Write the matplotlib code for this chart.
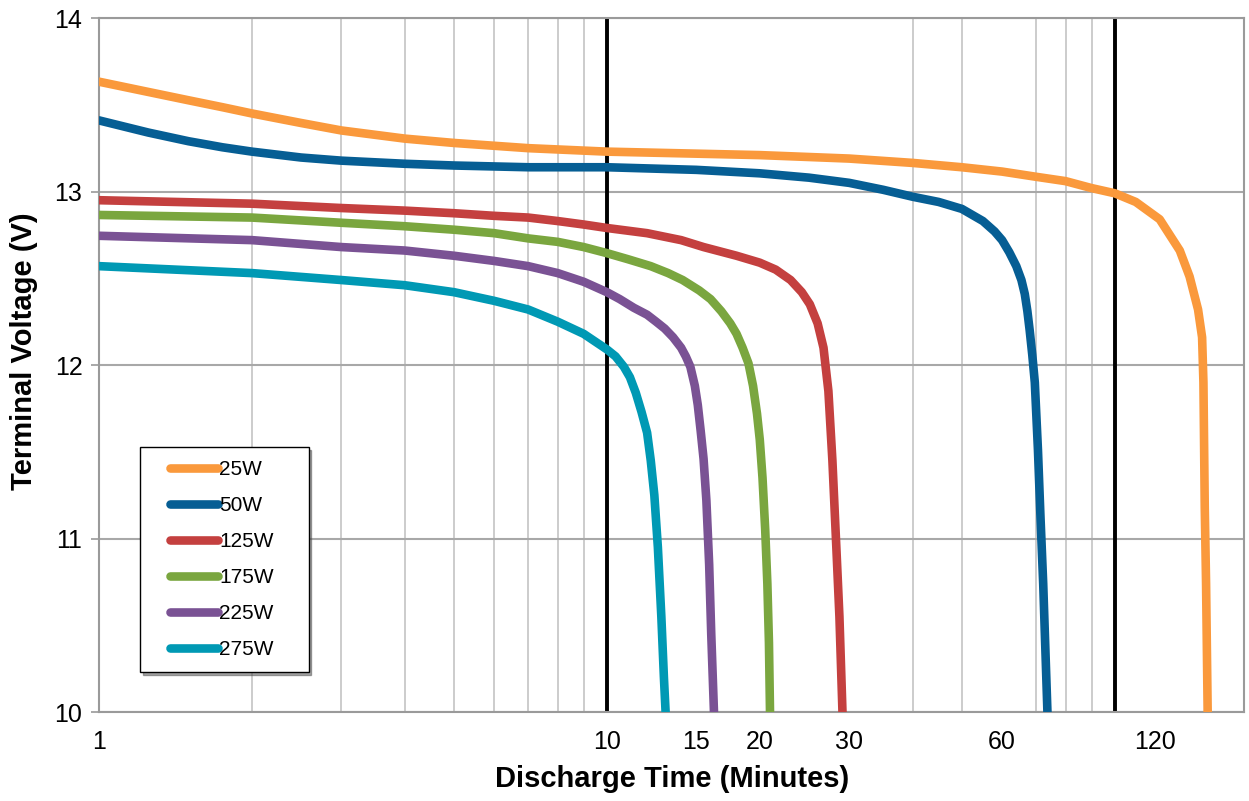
import matplotlib
matplotlib.use("Agg")
import matplotlib.pyplot as plt
from matplotlib.lines import Line2D
from matplotlib.legend_handler import HandlerLine2D
from matplotlib.ticker import LogLocator, FixedLocator, FixedFormatter, NullFormatter

# discharge curves: time (minutes) vs terminal voltage (V)
t_25 = [1, 1.25, 1.5, 1.75, 2, 2.5, 3, 4, 5, 7, 10, 20, 30, 40, 50, 60, 70, 80,
        90, 100, 110, 122.6, 134.3, 140.4, 145.9, 148.6, 149.5, 150.4, 151.3, 152.4]
v_25 = [13.633, 13.574, 13.526, 13.486, 13.45, 13.395, 13.352, 13.305, 13.28, 13.25,
        13.23, 13.21, 13.19, 13.165, 13.14, 13.115, 13.085, 13.06, 13.02, 12.99,
        12.94, 12.84, 12.66, 12.51, 12.32, 12.16, 11.9, 11.18, 10.74, 10.0]

t_50 = [1, 1.25, 1.5, 1.75, 2, 2.5, 3, 4, 5, 7, 10, 15, 20, 25, 30, 35, 40, 45,
        50, 55, 58, 60, 62, 64, 65.5, 66.5, 67.3, 68, 68.8, 69.6, 70.6, 71.4,
        72.3, 73.7]
v_50 = [13.41, 13.34, 13.29, 13.255, 13.23, 13.196, 13.178, 13.16, 13.15, 13.14,
        13.14, 13.125, 13.105, 13.08, 13.05, 13.01, 12.97, 12.94, 12.90, 12.83,
        12.77, 12.72, 12.65, 12.57, 12.49, 12.41, 12.31, 12.2, 12.06, 11.9,
        11.51, 11.13, 10.74, 10.0]

t_125 = [1, 2, 3, 4, 5, 6, 7, 8, 9, 10, 12, 14, 15.5, 18, 20, 21.5, 23, 24.2,
         25.1, 26, 26.7, 27.3, 27.8, 28.3, 28.7, 29.1]
v_125 = [12.95, 12.93, 12.905, 12.89, 12.875, 12.86, 12.85, 12.83, 12.81, 12.79,
         12.76, 12.72, 12.68, 12.63, 12.59, 12.55, 12.49, 12.42, 12.35, 12.24,
         12.10, 11.85, 11.45, 10.95, 10.55, 10.0]

t_175 = [1, 2, 3, 4, 5, 6, 7, 8, 9, 10, 11, 12.2, 13.2, 14.1, 15.2, 16.0, 16.8,
         17.5, 18.0, 18.5, 19.0, 19.4, 19.75, 20.0, 20.25, 20.5, 20.7, 20.85, 20.95]
v_175 = [12.865, 12.85, 12.82, 12.80, 12.78, 12.76, 12.73, 12.71, 12.68, 12.645,
         12.61, 12.57, 12.53, 12.49, 12.43, 12.38, 12.31, 12.24, 12.18, 12.10,
         12.01, 11.88, 11.72, 11.57, 11.35, 11.05, 10.74, 10.4, 10.0]

t_225 = [1, 2, 3, 4, 5, 6, 7, 8, 9, 10, 10.6, 11.3, 12.0, 12.5, 13.0, 13.5, 14.0,
         14.3, 14.6, 14.9, 15.1, 15.3, 15.5, 15.7, 15.9, 16.05, 16.25]
v_225 = [12.745, 12.72, 12.68, 12.66, 12.63, 12.60, 12.57, 12.53, 12.48, 12.42,
         12.38, 12.33, 12.29, 12.25, 12.21, 12.16, 12.10, 12.05, 11.99, 11.88,
         11.77, 11.62, 11.46, 11.22, 10.85, 10.45, 10.0]

t_275 = [1, 2, 3, 4, 5, 6, 7, 8, 9, 10, 10.4, 10.8, 11.1, 11.4, 11.7, 12.0, 12.2,
         12.4, 12.6, 12.8, 12.95, 13.05]
v_275 = [12.57, 12.53, 12.49, 12.46, 12.42, 12.37, 12.32, 12.25, 12.18, 12.09,
         12.05, 11.99, 11.93, 11.84, 11.73, 11.61, 11.45, 11.25, 10.95, 10.55,
         10.2, 10.0]

labels = ["25W", "50W", "125W", "175W", "225W", "275W"]
colors = ["#FA993C", "#065E94", "#C4403F", "#7AA63F", "#7A5294", "#0099B4"]
x_ticks = [1, 10, 15, 20, 30, 60, 120]
y_ticks = [10, 11, 12, 13, 14]

fnt = ["Liberation Sans", "DejaVu Sans"]

fig = plt.figure(figsize=(12.49, 8.01), dpi=100)
ax = fig.add_axes([0.0793, 0.111, 0.917, 0.8665])

series = [(t_25, v_25), (t_50, v_50), (t_125, v_125),
          (t_175, v_175), (t_225, v_225), (t_275, v_275)]
for (t, v), lab, c in zip(series, labels, colors):
    ax.plot(t, v, color=c, lw=6.2, label=lab, solid_capstyle="round",
            solid_joinstyle="round", zorder=3)

ax.set_xscale("log")
ax.set_xlim(1, 180)
ax.set_ylim(10, 14)

# grid: minor verticals, integer horizontals, black decades
ax.xaxis.set_minor_locator(LogLocator(base=10, subs=range(2, 10)))
ax.xaxis.set_minor_formatter(NullFormatter())
ax.xaxis.set_major_locator(FixedLocator(x_ticks))
ax.xaxis.set_major_formatter(FixedFormatter([str(x) for x in x_ticks]))
ax.set_yticks(y_ticks)
ax.grid(which="minor", axis="x", color="#C4C4C4", lw=1.2, zorder=0)
ax.grid(which="major", axis="y", color="#A8A8A8", lw=1.5, zorder=0)
ax.axvline(10, color="black", lw=2.8, zorder=2)
ax.axvline(100, color="black", lw=2.8, zorder=2)

for s in ax.spines.values():
    s.set_color("#9A9A9A")
    s.set_linewidth(1.5)

ax.tick_params(axis="x", which="both", length=0, pad=13)
ax.tick_params(axis="y", which="major", length=6, width=1.2, color="#9A9A9A", pad=6)
for lbl in ax.get_xticklabels() + ax.get_yticklabels():
    lbl.set_fontfamily(fnt)
    lbl.set_fontsize(18)

ax.set_xlabel("Discharge Time (Minutes)", fontsize=21, fontweight="bold",
              family=fnt, labelpad=8)
ax.set_ylabel("Terminal Voltage (V)", fontsize=21, fontweight="bold",
              family=fnt)
ax.yaxis.set_label_coords(-0.053, 0.52)

leg = ax.legend(loc="lower left", bbox_to_anchor=(0.036, 0.058, 0.147, 0.324),
                mode="expand", borderaxespad=0, fancybox=False, shadow=True,
                framealpha=1, edgecolor="black", borderpad=0.6,
                handlelength=3.15, handletextpad=0.05, labelspacing=0.82,
                handler_map={Line2D: HandlerLine2D(xpad=0.85)},
                prop={"family": fnt, "size": 15})
leg.get_frame().set_linewidth(1.0)
for line in leg.get_lines():
    line.set_linewidth(6.2)

fig.savefig("out.png", dpi=100)
